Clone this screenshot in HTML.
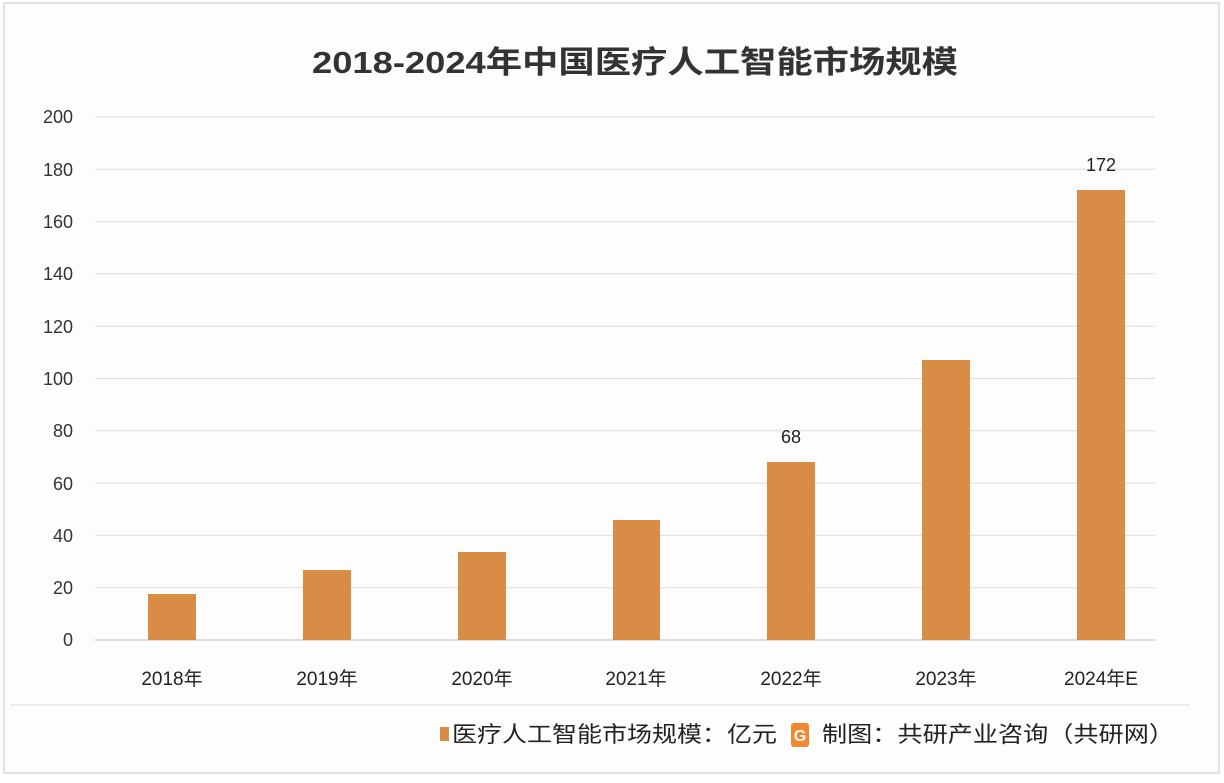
<!DOCTYPE html>
<html><head><meta charset="utf-8"><style>
body{margin:0;background:#fff;}
svg text{font-family:"Liberation Sans","Noto Sans CJK SC",sans-serif;}
</style></head><body>
<svg width="1224" height="778" viewBox="0 0 1224 778" xmlns="http://www.w3.org/2000/svg">
<rect x="0" y="0" width="1224" height="778" fill="#fff"/>
<rect x="4" y="3" width="1215" height="770" fill="#fdfdfd" stroke="#d8d8d8" stroke-width="1.5"/>
<text x="312" y="73" font-size="31" font-weight="bold" fill="#333" textLength="646" lengthAdjust="spacingAndGlyphs">2018-2024年中国医疗人工智能市场规模</text>
<g stroke="#dcdcdc" stroke-width="1">
<line x1="95" x2="1155" y1="117" y2="117"/><line x1="95" x2="1155" y1="169.3" y2="169.3"/>
<line x1="95" x2="1155" y1="221.6" y2="221.6"/><line x1="95" x2="1155" y1="273.9" y2="273.9"/>
<line x1="95" x2="1155" y1="326.2" y2="326.2"/><line x1="95" x2="1155" y1="378.5" y2="378.5"/>
<line x1="95" x2="1155" y1="430.8" y2="430.8"/><line x1="95" x2="1155" y1="483.1" y2="483.1"/>
<line x1="95" x2="1155" y1="535.4" y2="535.4"/><line x1="95" x2="1155" y1="587.7" y2="587.7"/>
</g>
<line x1="95" x2="1155" y1="640" y2="640" stroke="#c8c8c8" stroke-width="1.2"/>
<g font-size="18" fill="#333" text-anchor="end">
<text x="73" y="123">200</text><text x="73" y="176">180</text><text x="73" y="228">160</text>
<text x="73" y="280">140</text><text x="73" y="333">120</text><text x="73" y="385">100</text>
<text x="73" y="437">80</text><text x="73" y="490">60</text><text x="73" y="542">40</text>
<text x="73" y="594">20</text><text x="73" y="646">0</text>
</g>
<g fill="#d98c45">
<rect x="148" y="594" width="48" height="46"/>
<rect x="303" y="570" width="48" height="70"/>
<rect x="458" y="552" width="48" height="88"/>
<rect x="613" y="520" width="47" height="120"/>
<rect x="767" y="462" width="48" height="178"/>
<rect x="922" y="360" width="48" height="280"/>
<rect x="1077" y="190" width="48" height="450"/>
</g>
<g font-size="18" fill="#222" text-anchor="middle">
<text x="791" y="443">68</text><text x="1101" y="171">172</text>
</g>
<g font-size="19" fill="#222" text-anchor="middle">
<text x="172" y="685">2018年</text><text x="327" y="685">2019年</text><text x="482" y="685">2020年</text>
<text x="636" y="685">2021年</text><text x="791" y="685">2022年</text><text x="946" y="685">2023年</text>
<text x="1101" y="685">2024年E</text>
</g>
<line x1="10" x2="1190" y1="705" y2="705" stroke="#e2e2e2" stroke-width="1.2"/>
<rect x="440" y="727" width="9" height="14" fill="#d98c45"/>
<text x="452" y="742" font-size="22" fill="#222" textLength="325" lengthAdjust="spacingAndGlyphs">医疗人工智能市场规模：亿元</text>
<rect x="791" y="723" width="18" height="24" rx="3" fill="#f0892f"/>
<text x="800" y="741" font-size="16" font-weight="bold" fill="#fff" text-anchor="middle">G</text>
<text x="822" y="742" font-size="22" fill="#222" textLength="352" lengthAdjust="spacingAndGlyphs">制图：共研产业咨询（共研网）</text>
</svg>
</body></html>
